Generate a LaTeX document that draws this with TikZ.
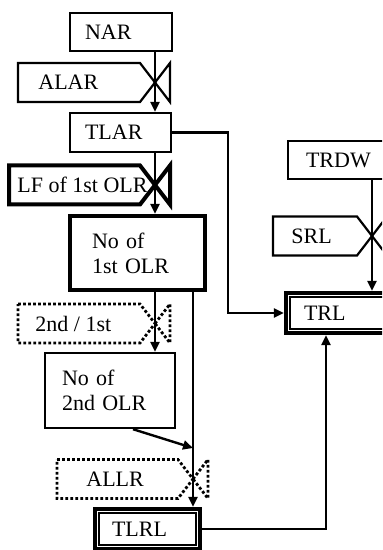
\documentclass[tikz,border=0pt]{standalone}
\usepackage{fontspec}
\setmainfont{Liberation Serif}
\usetikzlibrary{arrows.meta,positioning}

\tikzset{
  level/.style={draw, line width=1.2pt, align=left, inner xsep=7.5pt, inner ysep=0pt, minimum height=19pt},
  dlevel/.style={level, line width=2.2pt},
  flow/.style={line width=1.2pt, -{Triangle[length=5pt,width=4.5pt]}},
  lbl/.style={anchor=west, inner sep=0pt},
  tagthin/.style={line width=1.1pt},
  tagthick/.style={line width=2pt},
  tagdot/.style={line width=1.4pt, dash pattern=on 1.4pt off 1.1pt},
}
% rate tag with valve: #1 style, #2 left x, #3 valve x, #4 valve y
\newcommand{\valvetag}[4]{%
  \draw[#1] (#2,#4-19.5) -- (#3-15,#4-19.5) -- (#3,#4) -- (#3-15,#4+19.5) -- (#2,#4+19.5) -- cycle;
  \draw[#1] (#3,#4) -- (#3+15,#4-19.5) -- (#3+15,#4+19.5) -- cycle;
}

\begin{document}
\begin{tikzpicture}[x=0.5pt, y=-0.5pt, font=\fontsize{11}{12.5}\selectfont]
\clip (0,0) rectangle (382,550);
% levels
\node[level, text width=36pt] (NAR) at (121,32) {NAR};
\node[level, text width=35.5pt, minimum height=19.5pt] (TLAR) at (120.5,132.5) {TLAR};
\node[level, line width=2.2pt, text width=45.5pt, inner xsep=11pt, minimum height=37pt] (No1) at (137.5,253) {No of\\1st OLR};
\node[level, text width=48pt, inner xsep=8.5pt, minimum height=37.5pt] (No2) at (110,390.5) {No of\\2nd OLR};
\node[level, text width=35.5pt, inner xsep=9pt] (TRDW) at (341.5,160) {TRDW};
% double levels
\node[dlevel, text width=35.5pt, inner xsep=8.5pt, minimum height=20pt] (TLRL) at (147.5,529) {TLRL};
\node[dlevel, text width=35pt, inner xsep=9pt, minimum height=20pt] (TRL) at (339,313) {TRL};
\draw[line width=0.8pt] ([shift={(6,6)}]TLRL.north west) rectangle ([shift={(-6,-6)}]TLRL.south east);
\draw[line width=0.8pt] ([shift={(6,6)}]TRL.north west) rectangle ([shift={(-6,-6)}]TRL.south east);
% valves
\coordinate (vALAR) at (155,82.5);
\coordinate (vLF) at (155,185);
\coordinate (vSec) at (155,323.5);
\coordinate (vALLR) at (193,479);
\coordinate (vSRL) at (372,236);
\valvetag{tagthin}{18}{155}{82.5}
\valvetag{tagthick}{9}{155}{185}
\valvetag{tagdot}{18}{155}{323.5}
\valvetag{tagdot}{57}{193}{479}
\valvetag{tagthin}{273}{372}{236}
% rate labels
\node[lbl] (ALAR) at (38,82.5) {ALAR};
\node[lbl] (LF) at (17,185) {LF of 1st OLR};
\node[lbl] (SecFirst) at (35,323.5) {2nd / 1st};
\node[lbl] (ALLR) at (86,479) {ALLR};
\node[lbl] (SRL) at (291,236) {SRL};
% flows
\coordinate (jn) at (193,448);
\coordinate (bendA) at (228,313);
\draw[flow] (NAR.south -| vALAR) -- (TLAR.north -| vALAR);
\draw[flow] (TLAR.south -| vLF) -- (No1.north -| vLF);
\draw[flow] (No1.south -| vSec) -- (No2.north -| vSec);
\draw[flow] (No1.south -| vALLR) -- (TLRL.north -| vALLR);
\draw[flow] ([shift={(23,0)}]No2.south) -- (jn);
\draw[flow] (TLAR.east) -| (bendA) -- (TRL.west);
\draw[flow] (TRDW.south -| vSRL) -- (TRL.north -| vSRL);
\draw[flow] (TLRL.east) -| ([shift={(-13,0)}]TRL.south);
\end{tikzpicture}
\end{document}
